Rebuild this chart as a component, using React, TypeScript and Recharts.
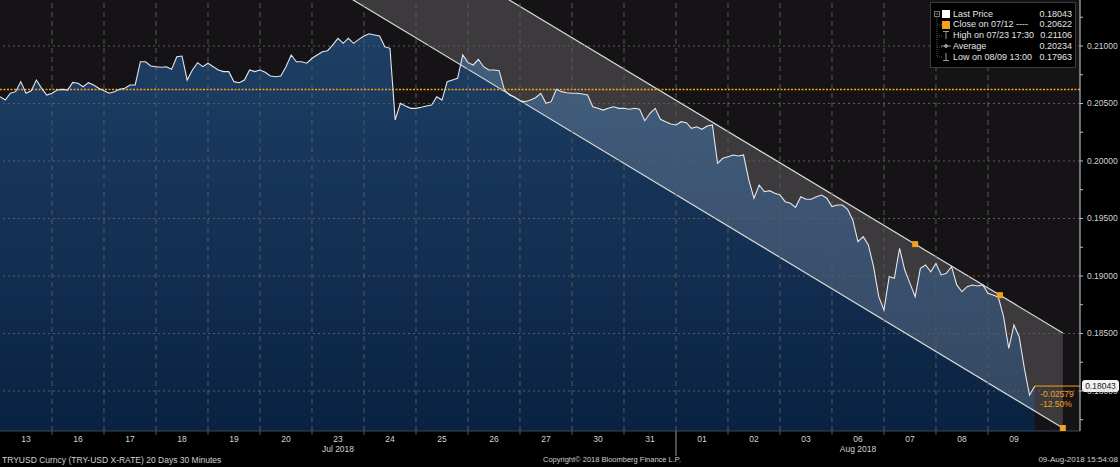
import React from 'react';
import {
  ComposedChart, Area, Line, XAxis, YAxis, CartesianGrid,
  ReferenceLine, ReferenceDot, Legend,
} from 'recharts';

const FONT = '"Liberation Sans", Arial, sans-serif';
const ORANGE = '#f7a11a';

// trading days shown on the time axis
const dayLabels = ['13', '16', '17', '18', '19', '20', '23', '24', '25', '26', '27', '30', '31', '01', '02', '03', '06', '07', '08', '09'];
const monthLabels = [{ day: 6, label: 'Jul 2018' }, { day: 16, label: 'Aug 2018' }];
const monthBreak = 13; // Aug 01
const pointsPerDay = 10;
const xMax = 20.77; // axis runs a bit past the last session

const prices = [
  // 13 Jul
  0.20559, 0.20530, 0.20589, 0.20603, 0.20690, 0.20589, 0.20611, 0.20704, 0.20632, 0.20574,
  // 16
  0.20589, 0.20617, 0.20623, 0.20617, 0.20684, 0.20676, 0.20646, 0.20681, 0.20661, 0.20632,
  // 17
  0.20611, 0.20589, 0.20603, 0.20623, 0.20632, 0.20661, 0.20661, 0.20863, 0.20863, 0.20826,
  // 18
  0.20820, 0.20815, 0.20820, 0.20797, 0.20907, 0.20913, 0.20704, 0.20791, 0.20855, 0.20820,
  // 19
  0.20850, 0.20820, 0.20791, 0.20777, 0.20777, 0.20690, 0.20681, 0.20704, 0.20791, 0.20777,
  // 20
  0.20791, 0.20771, 0.20739, 0.20733, 0.20739, 0.20820, 0.20922, 0.20863, 0.20863, 0.20850,
  // 23
  0.20893, 0.20922, 0.20950, 0.20959, 0.21009, 0.21067, 0.21023, 0.21067, 0.21023, 0.21058,
  // 24
  0.21087, 0.21106, 0.21096, 0.21087, 0.20994, 0.20980, 0.20357, 0.20502, 0.20478, 0.20458,
  // 25
  0.20458, 0.20467, 0.20478, 0.20487, 0.20559, 0.20530, 0.20690, 0.20704, 0.20719, 0.20922,
  // 26
  0.20855, 0.20835, 0.20884, 0.20820, 0.20791, 0.20791, 0.20785, 0.20617, 0.20574, 0.20554,
  // 27
  0.20524, 0.20516, 0.20530, 0.20550, 0.20589, 0.20502, 0.20516, 0.20623, 0.20603, 0.20594,
  // 30
  0.20589, 0.20589, 0.20583, 0.20574, 0.20472, 0.20458, 0.20443, 0.20458, 0.20472, 0.20458,
  // 31
  0.20458, 0.20450, 0.20458, 0.20450, 0.20350, 0.20415, 0.20458, 0.20363, 0.20342, 0.20322,
  // 01 Aug
  0.20313, 0.20342, 0.20333, 0.20284, 0.20298, 0.20276, 0.20304, 0.20313, 0.19980, 0.20023,
  // 02
  0.20037, 0.20052, 0.20043, 0.20052, 0.19835, 0.19676, 0.19791, 0.19733, 0.19742, 0.19719,
  // 03
  0.19704, 0.19646, 0.19632, 0.19597, 0.19690, 0.19667, 0.19667, 0.19690, 0.19704, 0.19676,
  // 06
  0.19603, 0.19617, 0.19617, 0.19580, 0.19487, 0.19298, 0.19342, 0.19270, 0.19081, 0.18820,
  // 07
  0.18704, 0.18994, 0.18980, 0.19241, 0.19052, 0.18936, 0.18820, 0.19067, 0.19096, 0.19037,
  // 08
  0.19110, 0.19009, 0.19023, 0.19081, 0.18922, 0.18863, 0.18907, 0.18922, 0.18913, 0.18922,
  // 09
  0.18849, 0.18835, 0.18815, 0.18646, 0.18371, 0.18574, 0.18472, 0.18197, 0.17963, 0.18043,
];

// summary figures from the legend
const lastPrice = 0.18043;
const closePrice = 0.20622;
const highPrice = 0.21106;
const avgPrice = 0.20234;
const lowPrice = 0.17963;
const changeValue = -0.02579;
const changePct = -12.50;

// trend channel (start / end)
const channelX = [6.0, 20.44];
const channelLower = [0.21616, 0.17678];
const channelUpper = [0.22432, 0.18504];
const touchX = [17.6, 19.23, 20.44];
const touchY = [0.19277, 0.18833, 0.17678];

const yDomain = [0.17652, 0.214];
const yMajor = [0.18, 0.185, 0.19, 0.195, 0.2, 0.205, 0.21];
const yMinor = [0.1775, 0.1825, 0.1875, 0.1925, 0.1975, 0.2025, 0.2075, 0.2125];

const priceData = prices.map((v, i) => ({ x: i / pointsPerDay, v }));
const channelData = channelX.map((x, i) => ({ x, lower: channelLower[i], upper: channelUpper[i], band: [channelLower[i], channelUpper[i]] }));
const lastX = (prices.length - 1) / pointsPerDay;
const boundaries = dayLabels.map((_, i) => i).slice(1);
const xTicks = [...dayLabels.map((_, i) => i + 0.5), ...boundaries];

const DayTick = (props: any) => {
  const { x, y, payload } = props;
  const v = payload.value;
  if (Number.isInteger(v)) {
    const long = v === monthBreak;
    return <line x1={x} x2={x} y1={y} y2={y + (long ? 25 : 4)} stroke={long ? '#9a9a9a' : '#555'} />;
  }
  const idx = Math.floor(v);
  const month = monthLabels.find((m) => m.day === idx);
  return (
    <g>
      <text x={x} y={y + 11} textAnchor="middle" fill="#d2d2d2" fontSize={8.5} fontFamily={FONT}>{dayLabels[idx]}</text>
      {month && <text x={x} y={y + 21} textAnchor="middle" fill="#d2d2d2" fontSize={8.5} fontFamily={FONT}>{month.label}</text>}
    </g>
  );
};

const PriceTick = (props: any) => {
  const { x, y, payload } = props;
  if (!yMajor.some((t) => Math.abs(t - payload.value) < 1e-7)) return <g />;
  return (
    <text x={x} y={y + 3} fill="#d2d2d2" fontSize={8.5} fontFamily={FONT}>{payload.value.toFixed(5)}</text>
  );
};

const LastLabel = (props: any) => {
  const { x, y, width } = props.viewBox;
  const right = x + width;
  return (
    <g fontFamily={FONT}>
      <text x={right - 23} y={y + 11} textAnchor="middle" fill={ORANGE} fontSize={8.5}>{changeValue.toFixed(5)}</text>
      <text x={right - 24} y={y + 21} textAnchor="middle" fill={ORANGE} fontSize={8.5}>{changePct.toFixed(2)}%</text>
      <rect x={right + 2} y={y - 6} width={37} height={12} rx={3} fill="#f2f2f2" />
      <text x={right + 20.5} y={y + 3} textAnchor="middle" fill="#111" fontSize={8.5}>{lastPrice.toFixed(5)}</text>
    </g>
  );
};

const legendRows = [
  { label: 'Last Price', value: lastPrice, icon: 'last' },
  { label: 'Close on 07/12 ----', value: closePrice, icon: 'close' },
  { label: 'High on 07/23 17:30', value: highPrice, icon: 'high' },
  { label: 'Average', value: avgPrice, icon: 'avg' },
  { label: 'Low on 08/09 13:00', value: lowPrice, icon: 'low' },
];

const RowIcon = ({ kind }: { kind: string }) => {
  const c = '#9a9a9a';
  return (
    <svg width={12} height={10} style={{ display: 'block' }}>
      {kind === 'last' && <rect x={2} y={1} width={8} height={8} fill="#ffffff" />}
      {kind === 'close' && <rect x={2} y={1} width={8} height={8} fill={ORANGE} />}
      {kind === 'high' && <g stroke={c}><line x1={3} x2={9} y1={1.5} y2={1.5} /><line x1={6} x2={6} y1={1.5} y2={9} /></g>}
      {kind === 'avg' && <g stroke={c}><line x1={1} x2={11} y1={5} y2={5} /><circle cx={6} cy={5} r={1.5} fill={c} /></g>}
      {kind === 'low' && <g stroke={c}><line x1={3} x2={9} y1={8.5} y2={8.5} /><line x1={6} x2={6} y1={1} y2={8.5} /></g>}
    </svg>
  );
};

const InfoBox = () => (
  <div style={{ position: 'relative', width: 146, height: 66, background: '#000', border: '1px solid #3c3c3c', boxSizing: 'border-box', fontFamily: FONT, fontSize: 9, color: '#e4e4e4' }}>
    <svg width={14} height={66} style={{ position: 'absolute', left: 0, top: 0 }}>
      <rect x={3.5} y={8.5} width={5} height={5} fill="none" stroke="#777" />
      <line x1={4.5} x2={7.5} y1={11} y2={11} stroke="#777" />
      <line x1={6} x2={6} y1={14} y2={54} stroke="#555" strokeDasharray="1 1" />
      {[22, 33, 44, 54].map((yy) => <line key={yy} x1={6} x2={11} y1={yy} y2={yy} stroke="#555" strokeDasharray="1 1" />)}
    </svg>
    <div style={{ paddingTop: 5.5 }}>
      {legendRows.map((r) => (
        <div key={r.label} style={{ display: 'flex', alignItems: 'center', height: 10.8, lineHeight: '10.8px' }}>
          <div style={{ width: 12, marginLeft: 9 }}><RowIcon kind={r.icon} /></div>
          <div style={{ flex: 1, marginLeft: 1, whiteSpace: 'nowrap' }}>{r.label}</div>
          <div style={{ marginRight: 3, marginLeft: 3, textAlign: 'right' }}>{r.value.toFixed(5)}</div>
        </div>
      ))}
    </div>
  </div>
);

const footStyle: React.CSSProperties = {
  position: 'absolute', top: 455, fontFamily: FONT, lineHeight: '10px', color: '#d0d0d0', whiteSpace: 'nowrap',
};

export default function App() {
  return (
    <div style={{ position: 'fixed', left: 0, top: 0, width: 1120, height: 467, background: '#000', overflow: 'hidden' }}>
      <ComposedChart width={1120} height={467} margin={{ top: 0, right: 0, bottom: 0, left: 0 }}>
        <defs>
          <linearGradient id="navyFill" x1="0" y1="0" x2="0" y2="1">
            <stop offset="0%" stopColor="#1e3f66" />
            <stop offset="100%" stopColor="#0a2241" />
          </linearGradient>
        </defs>
        <CartesianGrid horizontal={false} vertical={false} fill="#151315" />
        <XAxis
          dataKey="x" type="number" domain={[0, xMax]} allowDataOverflow ticks={xTicks} interval={0}
          height={36} tickSize={0} tickMargin={0} tickLine={false} axisLine={{ stroke: '#3b4a5e' }} tick={<DayTick />}
        />
        <YAxis
          orientation="right" width={40} domain={yDomain} allowDataOverflow ticks={[...yMajor, ...yMinor]} interval={0}
          tickSize={3} tickMargin={4} tickLine={{ stroke: '#bdbdbd' }} axisLine={{ stroke: '#d6d6d6' }} tick={<PriceTick />}
        />
        <Area data={priceData} dataKey="v" type="linear" stroke="none" fill="url(#navyFill)" fillOpacity={1} dot={false} activeDot={false} isAnimationActive={false} />
        <Area data={channelData} dataKey="band" type="linear" stroke="none" fill="#ffffff" fillOpacity={0.17} dot={false} activeDot={false} isAnimationActive={false} />
        <Line data={channelData} dataKey="lower" type="linear" stroke="#d8d8d8" strokeWidth={1.2} dot={false} activeDot={false} isAnimationActive={false} />
        <Line data={channelData} dataKey="upper" type="linear" stroke="#d8d8d8" strokeWidth={1.2} dot={false} activeDot={false} isAnimationActive={false} />
        {boundaries.map((d) => (
          <ReferenceLine key={`d${d}`} x={d} stroke="#595959" strokeDasharray="5 4" />
        ))}
        {yMajor.map((t) => (
          <ReferenceLine key={`y${t}`} y={t} stroke="#5e5e5e" strokeDasharray="2 3" />
        ))}
        <ReferenceLine y={closePrice} stroke={ORANGE} strokeWidth={1.4} strokeDasharray="2 1.5" />
        <Line data={priceData} dataKey="v" type="linear" stroke="#e4e6ea" strokeWidth={1.1} dot={false} activeDot={false} isAnimationActive={false} />
        <ReferenceLine
          segment={[{ x: lastX, y: lastPrice }, { x: xMax, y: lastPrice }]}
          stroke={ORANGE} label={(p: any) => <LastLabel {...p} />}
        />
        {touchX.map((x, i) => (
          <ReferenceDot
            key={`t${i}`} x={x} y={touchY[i]} r={3}
            shape={(p: any) => <rect x={p.cx - 3} y={p.cy - 3} width={6} height={6} fill={ORANGE} />}
          />
        ))}
        <Legend
          layout="vertical" align="center" verticalAlign="middle"
          wrapperStyle={{ left: 930, top: 2, width: 146, height: 66 }}
          content={() => <InfoBox />}
        />
      </ComposedChart>
      <div style={{ ...footStyle, left: 2, fontSize: 8.5 }}>
        TRYUSD Curncy (TRY-USD X-RATE) 20 Days 30 Minutes
      </div>
      <div style={{ ...footStyle, left: 543, fontSize: 7.5 }}>
        Copyright© 2018 Bloomberg Finance L.P.
      </div>
      <div style={{ ...footStyle, right: 2, fontSize: 8 }}>
        09-Aug-2018 15:54:08
      </div>
    </div>
  );
}
